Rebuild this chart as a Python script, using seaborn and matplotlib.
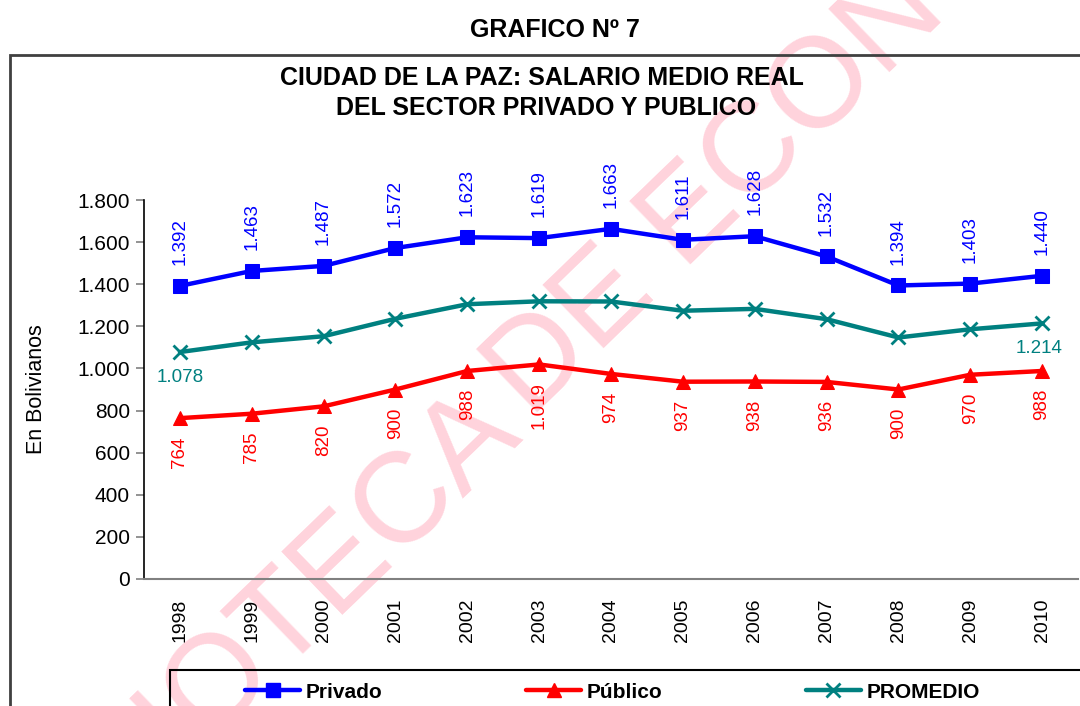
import matplotlib
matplotlib.use("Agg")
import matplotlib.pyplot as plt
import matplotlib.patches as mpatches
from matplotlib.lines import Line2D
import seaborn as sns

# datos
anios = ["1998", "1999", "2000", "2001", "2002", "2003", "2004",
         "2005", "2006", "2007", "2008", "2009", "2010"]
privado = [1392, 1463, 1487, 1572, 1623, 1619, 1663, 1611, 1628, 1532, 1394, 1403, 1440]
publico = [764, 785, 820, 900, 988, 1019, 974, 937, 938, 936, 900, 970, 988]
promedio = [1078, 1124, 1153, 1236, 1305, 1319, 1318, 1274, 1283, 1234, 1147, 1186, 1214]

AZUL = "#0000FF"
ROJO = "#FF0000"
VERDE = "#008080"
W, H = 1080, 706


def fmt(v):
    return f"{v:,}".replace(",", ".")


sns.set_style("white")
plt.rcParams["font.family"] = ["Liberation Sans", "DejaVu Sans"]
for k in ["text.color", "axes.labelcolor", "xtick.color", "ytick.color"]:
    plt.rcParams[k] = "black"

fig = plt.figure(figsize=(W / 100, H / 100), dpi=100)
ax = fig.add_axes([144 / W, 1 - 579 / H, (1078 - 144) / W, (579 - 200) / H])
ax.set_facecolor("none")

# marca de agua (detras de todo)
marca = dict(color="#FFD3DC", fontsize=92, fontfamily="Liberation Sans",
             rotation=44, rotation_mode="anchor", va="baseline", zorder=-5)
fig.text(522 / W, 1 - 432 / H, "BIBLIOTECA", ha="right", **marca)
fig.text(530 / W, 1 - 419 / H, "DE ECONOMIA", ha="left", **marca)

# marco exterior y marco de la leyenda
fig.patches.append(mpatches.Rectangle((10 / W, -0.1), 1.2, 1 - 55 / H + 0.1,
                                      transform=fig.transFigure, fill=False,
                                      edgecolor="#404040", lw=2, zorder=-4))
fig.patches.append(mpatches.Rectangle((170 / W, -0.1), 1.2, 1 - 670 / H + 0.1,
                                      transform=fig.transFigure, fill=False,
                                      edgecolor="black", lw=1.5, zorder=-4))

fig.text(555 / W, 1 - 30 / H, "GRAFICO Nº 7", ha="center", va="center",
         fontsize=18, fontweight="bold")
fig.text(542 / W, 1 - 78 / H, "CIUDAD DE LA PAZ: SALARIO MEDIO REAL",
         ha="center", va="center", fontsize=18, fontweight="bold")
fig.text(546 / W, 1 - 108 / H, "DEL SECTOR PRIVADO Y PUBLICO",
         ha="center", va="center", fontsize=18, fontweight="bold")

x = list(range(len(anios)))
sns.lineplot(x=x, y=privado, ax=ax, color=AZUL, lw=3.2, marker="s",
             markersize=10, markeredgecolor=AZUL)
sns.lineplot(x=x, y=publico, ax=ax, color=ROJO, lw=3.2, marker="^",
             markersize=10, markeredgecolor=ROJO)
sns.lineplot(x=x, y=promedio, ax=ax, color=VERDE, lw=3.2, marker="x",
             markersize=10, markeredgewidth=2, markeredgecolor=VERDE)

for i, v in enumerate(privado):
    ax.annotate(fmt(v), (i, v), xytext=(0, 15), textcoords="offset points",
                rotation=90, ha="center", va="bottom", color=AZUL, fontsize=13.5)
for i, v in enumerate(publico):
    ax.annotate(fmt(v), (i, v), xytext=(0, -13), textcoords="offset points",
                rotation=90, ha="center", va="top", color=ROJO, fontsize=13.5)
ax.annotate(fmt(promedio[0]), (0, promedio[0]), xytext=(0, -12),
            textcoords="offset points", ha="center", va="top", color=VERDE, fontsize=13.5)
ax.annotate(fmt(promedio[-1]), (12, promedio[-1]), xytext=(-2, -12),
            textcoords="offset points", ha="center", va="top", color=VERDE, fontsize=13.5)

ax.set_xlim(-0.5, 12.5)
ax.set_ylim(0, 1800)
ax.set_yticks(range(0, 1801, 200))
ax.set_yticklabels([fmt(t) for t in range(0, 1801, 200)], fontsize=15)
ax.set_xticks(x)
ax.set_xticklabels(anios, rotation=90, fontsize=14)
ax.set_xticks([i - 0.5 for i in range(14)], minor=True)
ax.tick_params(axis="x", which="major", length=0, pad=14)
ax.tick_params(axis="x", which="minor", length=6, color="#808080", width=1.2, direction="out")
ax.tick_params(axis="y", length=6, color="#808080", width=1.2, direction="out", pad=4, left=True)
ax.set_ylabel("En Bolivianos", fontsize=15.5)
ax.yaxis.set_label_coords(-0.104, 0.5)

sns.despine(ax=ax)
ax.spines["left"].set_color("black")
ax.spines["bottom"].set_color("#808080")
ax.spines["left"].set_linewidth(1.2)
ax.spines["bottom"].set_linewidth(1.5)

handles = [
    Line2D([], [], color=AZUL, lw=3.2, marker="s", markersize=10),
    Line2D([], [], color=ROJO, lw=3.2, marker="^", markersize=10),
    Line2D([], [], color=VERDE, lw=3.2, marker="x", markersize=10, markeredgewidth=2),
]
leg = fig.legend(handles, ["Privado", "Público", "PROMEDIO"], ncol=3,
                 loc="center left", bbox_to_anchor=(245 / W, 1 - 692 / H),
                 frameon=False, handlelength=2.65, handletextpad=0.25,
                 columnspacing=6.9, borderpad=0, borderaxespad=0,
                 prop={"weight": "bold", "size": 15})

fig.savefig("out.png", dpi=100)
